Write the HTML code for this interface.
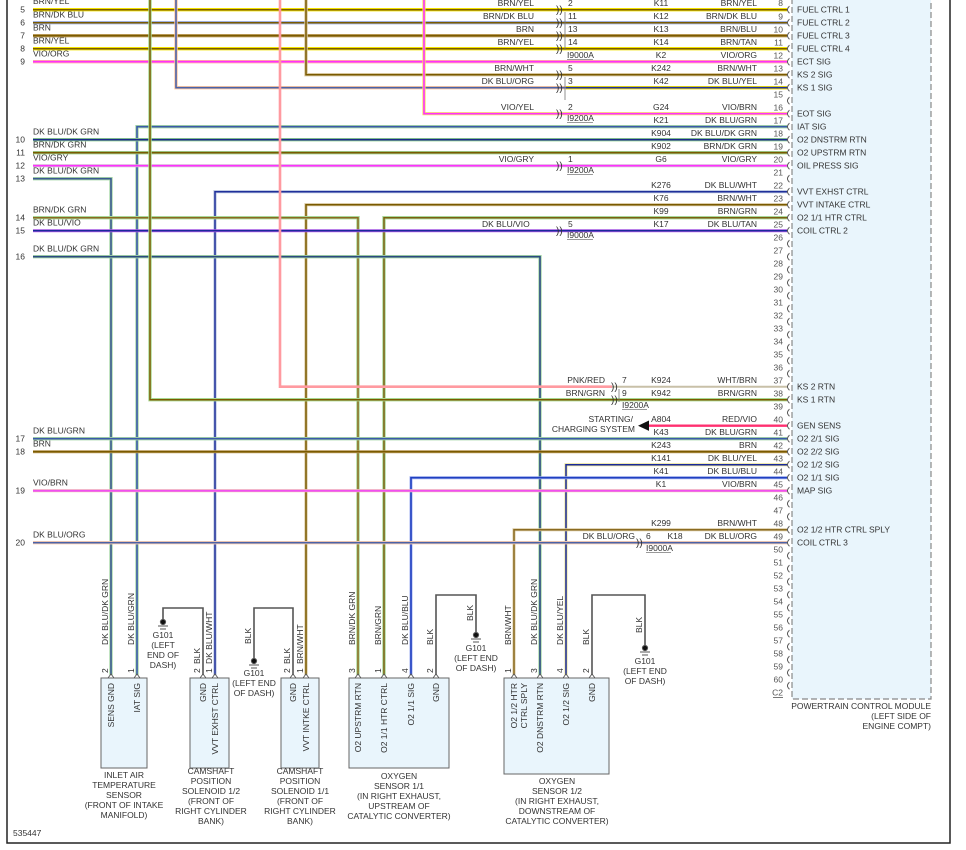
<!DOCTYPE html>
<html><head><meta charset="utf-8"><style>
html,body{margin:0;padding:0;background:#fff;}
svg{display:block;font-family:"Liberation Sans",sans-serif;font-size:8.5px;fill:#333;}
.w{fill:none;stroke-linejoin:miter;}
.e{text-anchor:end}.m{text-anchor:middle}
</style></head><body>
<svg width="966" height="850" viewBox="0 0 966 850" xmlns="http://www.w3.org/2000/svg">
<defs>
<pattern id="pc" patternUnits="userSpaceOnUse" x="782" y="3.2" width="12" height="13">
<path d="M7.5 3 Q3.5 6.5 7.5 10" fill="none" stroke="#444" stroke-width="0.9"/>
</pattern>
</defs>
<rect x="0" y="0" width="966" height="850" fill="#fff"/>
<!-- PCM box -->
<rect x="792" y="-2" width="139" height="701" fill="#e9f5fc" stroke="#888" stroke-width="1.2" stroke-dasharray="6,3"/>
<rect x="782" y="3.2" width="12" height="689" fill="url(#pc)"/>

<!-- frame -->
<rect x="7" y="-1" width="943" height="844" fill="none" stroke="#222" stroke-width="1.5"/>

<!-- WIRES -->
<g class="w">
<!-- L5 BRN/YEL -->
<polyline points="33,9.7 787,9.7" stroke="#f2e200" stroke-width="3.4"/><polyline points="33,9.7 787,9.7" stroke="#7a5a00" stroke-width="1.5"/>
<polyline points="33,22.7 787,22.7" stroke="#9fb0e0" stroke-width="3.4"/><polyline points="33,22.7 787,22.7" stroke="#7a5a00" stroke-width="1.5"/>
<polyline points="33,35.7 787,35.7" stroke="#c0a060" stroke-width="3.4"/><polyline points="33,35.7 787,35.7" stroke="#7a5a00" stroke-width="1.6"/>
<polyline points="33,48.7 787,48.7" stroke="#f2e200" stroke-width="3.4"/><polyline points="33,48.7 787,48.7" stroke="#7a5a00" stroke-width="1.5"/>
<polyline points="33,61.7 787,61.7" stroke="#ffb0a0" stroke-width="3.4"/><polyline points="33,61.7 787,61.7" stroke="#ff30ff" stroke-width="1.6"/>
<!-- pin13 BRN/WHT -->
<polyline points="306,0 306,74.7 787,74.7" stroke="#d8c8a0" stroke-width="3.4"/><polyline points="306,0 306,74.7 787,74.7" stroke="#7a5a00" stroke-width="1.5"/>
<!-- pin14 DK BLU/ORG -->
<polyline points="176,0 176,87.7 787,87.7" stroke="#ffc8a0" stroke-width="3.4"/><polyline points="176,0 176,87.7 787,87.7" stroke="#4a62a8" stroke-width="1.6"/>
<polyline points="566,87.7 787,87.7" stroke="#f2e200" stroke-width="3.4"/><polyline points="566,87.7 787,87.7" stroke="#20309a" stroke-width="1.6"/>
<!-- pin16 VIO/YEL -->
<polyline points="424,0 424,113.7 787,113.7" stroke="#f6e060" stroke-width="3.2"/><polyline points="424,0 424,113.7 787,113.7" stroke="#ff30ff" stroke-width="1.6"/>
<!-- pin17 DK BLU/GRN -->
<polyline points="137,675 137,126.7 787,126.7" stroke="#a8d8a8" stroke-width="3.4"/><polyline points="137,675 137,126.7 787,126.7" stroke="#3a5aa8" stroke-width="1.6"/>
<!-- L10 DK BLU/DK GRN -->
<polyline points="33,139.7 787,139.7" stroke="#90d090" stroke-width="3.4"/><polyline points="33,139.7 787,139.7" stroke="#1a2a8a" stroke-width="1.6"/>
<polyline points="33,152.7 787,152.7" stroke="#a0d090" stroke-width="3.4"/><polyline points="33,152.7 787,152.7" stroke="#7a5a00" stroke-width="1.6"/>
<polyline points="33,165.7 787,165.7" stroke="#d0c0d0" stroke-width="3"/><polyline points="33,165.7 787,165.7" stroke="#ff30ff" stroke-width="1.6"/>
<!-- L13 -->
<polyline points="33,178.7 111,178.7 111,675" stroke="#a8d8a8" stroke-width="3.4"/><polyline points="33,178.7 111,178.7 111,675" stroke="#3a5a90" stroke-width="1.6"/>
<!-- pin22 DK BLU/WHT -->
<polyline points="215,675 215,191.7 787,191.7" stroke="#b8c4e0" stroke-width="3.2"/><polyline points="215,675 215,191.7 787,191.7" stroke="#20309a" stroke-width="1.5"/>
<!-- pin23 BRN/WHT -->
<polyline points="306,675 306,204.7 787,204.7" stroke="#d8c8a0" stroke-width="3.2"/><polyline points="306,675 306,204.7 787,204.7" stroke="#7a5a00" stroke-width="1.5"/>
<!-- pin24 BRN/GRN -->
<polyline points="384,675 384,217.7 787,217.7" stroke="#a8d898" stroke-width="3.4"/><polyline points="384,675 384,217.7 787,217.7" stroke="#7a6010" stroke-width="1.5"/>
<!-- L14 BRN/DK GRN -->
<polyline points="33,217.7 358,217.7 358,675" stroke="#a8d898" stroke-width="3.4"/><polyline points="33,217.7 358,217.7 358,675" stroke="#8a6a20" stroke-width="1.5"/>
<!-- L15 DK BLU/VIO -->
<polyline points="33,230.7 787,230.7" stroke="#c060f0" stroke-width="3"/><polyline points="33,230.7 787,230.7" stroke="#1a2a9a" stroke-width="1.6"/>
<!-- L16 -->
<polyline points="33,256.7 540,256.7 540,675" stroke="#a8d8a8" stroke-width="3.4"/><polyline points="33,256.7 540,256.7 540,675" stroke="#2a4a80" stroke-width="1.6"/>
<!-- pin37 PNK/RED -> WHT/BRN -->
<polyline points="280,0 280,386.7 612,386.7" stroke="#ff9aa0" stroke-width="2.6"/>
<polyline points="612,386.7 787,386.7" stroke="#c8c0a8" stroke-width="2"/>
<!-- pin38 BRN/GRN -->
<polyline points="150,0 150,399.7 787,399.7" stroke="#a8d890" stroke-width="3.4"/><polyline points="150,0 150,399.7 787,399.7" stroke="#7a5a00" stroke-width="1.5"/>
<!-- pin40 -->
<polyline points="648,425.7 787,425.7" stroke="#ff3070" stroke-width="2.4"/>
<!-- L17 DK BLU/GRN -->
<polyline points="33,438.7 787,438.7" stroke="#a8d8a8" stroke-width="3.4"/><polyline points="33,438.7 787,438.7" stroke="#3a5aa8" stroke-width="1.6"/>
<polyline points="33,451.7 787,451.7" stroke="#c0a060" stroke-width="3"/><polyline points="33,451.7 787,451.7" stroke="#7a5a00" stroke-width="1.6"/>
<!-- pin43 DK BLU/YEL -->
<polyline points="566,675 566,464.7 787,464.7" stroke="#e8e090" stroke-width="3"/><polyline points="566,675 566,464.7 787,464.7" stroke="#1a2a9a" stroke-width="1.5"/>
<!-- pin44 DK BLU/BLU -->
<polyline points="411,675 411,477.7 787,477.7" stroke="#a0b0f0" stroke-width="3"/><polyline points="411,675 411,477.7 787,477.7" stroke="#2040c0" stroke-width="1.6"/>
<!-- L19 VIO/BRN -->
<polyline points="33,490.7 787,490.7" stroke="#f0d0b0" stroke-width="3.2"/><polyline points="33,490.7 787,490.7" stroke="#f050f0" stroke-width="2"/>
<!-- pin48 BRN/WHT -->
<polyline points="514,675 514,529.7 787,529.7" stroke="#d8c8a0" stroke-width="3"/><polyline points="514,675 514,529.7 787,529.7" stroke="#8a6a20" stroke-width="1.5"/>
<!-- L20 DK BLU/ORG -->
<polyline points="33,542.7 787,542.7" stroke="#ffd0b0" stroke-width="3.4"/><polyline points="33,542.7 787,542.7" stroke="#4a62a8" stroke-width="1.6"/>
<!-- ground wires -->
<polyline points="203,675 203,608 163,608 163,619" stroke="#555" stroke-width="1.6"/>
<polyline points="293,675 293,608 254,608 254,658" stroke="#555" stroke-width="1.6"/>
<polyline points="436,675 436,595 476,595 476,632" stroke="#555" stroke-width="1.6"/>
<polyline points="592,675 592,595 645,595 645,645" stroke="#555" stroke-width="1.6"/>
</g>

<!-- ground symbols -->
<g fill="#111" stroke="#555" stroke-width="1">
<circle cx="163" cy="622" r="2.6"/><line x1="158" y1="626" x2="168" y2="626"/><line x1="160" y1="629" x2="166" y2="629"/>
<circle cx="254" cy="661" r="2.6"/><line x1="249" y1="665" x2="259" y2="665"/><line x1="251" y1="668" x2="257" y2="668"/>
<circle cx="476" cy="635" r="2.6"/><line x1="471" y1="639" x2="481" y2="639"/><line x1="473" y1="642" x2="479" y2="642"/>
<circle cx="645" cy="648" r="2.6"/><line x1="640" y1="652" x2="650" y2="652"/><line x1="642" y1="655" x2="648" y2="655"/>
</g>

<!-- arrow -->
<polygon points="638,425.7 649,420.5 649,430.9" fill="#111"/>

<!-- inline connectors -->
<g fill="#333" font-size="10">
<text x="556" y="13">))</text><text x="556" y="26">))</text><text x="556" y="39">))</text><text x="556" y="52">))</text>
<text x="556" y="78">))</text><text x="556" y="91">))</text><text x="556" y="117">))</text><text x="556" y="169">))</text><text x="556" y="234">))</text>
<text x="611" y="390">))</text><text x="611" y="403">))</text><text x="636" y="546">))</text>
</g>
<g stroke="#777" stroke-width="0.8">
<line x1="565" y1="12" x2="565" y2="50"/><line x1="565" y1="77" x2="565" y2="100"/>
<line x1="619" y1="389" x2="619" y2="402"/>
<line x1="567" y1="59.5" x2="593" y2="59.5"/><line x1="567" y1="122.5" x2="593" y2="122.5"/><line x1="567" y1="174.5" x2="593" y2="174.5"/><line x1="567" y1="239.5" x2="593" y2="239.5"/>
<line x1="622" y1="409.5" x2="647" y2="409.5"/><line x1="646" y1="552.5" x2="671" y2="552.5"/>
</g>
<g>
<text x="568" y="6">2</text><text x="568" y="19">11</text><text x="568" y="32">13</text><text x="568" y="45">14</text><text x="567" y="58">I9000A</text>
<text x="568" y="71">5</text><text x="568" y="84">3</text>
<text x="568" y="110">2</text><text x="567" y="121">I9200A</text>
<text x="568" y="162">1</text><text x="567" y="173">I9200A</text>
<text x="568" y="227">5</text><text x="567" y="238">I9000A</text>
<text x="622" y="383">7</text><text x="622" y="396">9</text><text x="622" y="408">I9200A</text>
<text x="646" y="539">6</text><text x="646" y="551">I9000A</text>

<text class="e" x="534" y="6">BRN/YEL</text><text class="e" x="534" y="19">BRN/DK BLU</text><text class="e" x="534" y="32">BRN</text><text class="e" x="534" y="45">BRN/YEL</text>
<text class="e" x="534" y="71">BRN/WHT</text><text class="e" x="534" y="84">DK BLU/ORG</text><text class="e" x="534" y="110">VIO/YEL</text><text class="e" x="534" y="162">VIO/GRY</text>
<text x="482" y="227">DK BLU/VIO</text>
<text class="e" x="605" y="383">PNK/RED</text><text class="e" x="605" y="396">BRN/GRN</text>
<text class="e" x="633" y="422">STARTING/</text><text class="e" x="635" y="432">CHARGING SYSTEM</text>
<text class="e" x="635" y="539">DK BLU/ORG</text>
</g>

<!-- left row numbers and labels -->
<g>
<text class="e" x="25" y="12.7">5</text><text class="e" x="25" y="25.7">6</text><text class="e" x="25" y="38.7">7</text><text class="e" x="25" y="51.7">8</text><text class="e" x="25" y="64.7">9</text>
<text class="e" x="25" y="142.7">10</text><text class="e" x="25" y="155.7">11</text><text class="e" x="25" y="168.7">12</text><text class="e" x="25" y="181.7">13</text>
<text class="e" x="25" y="220.7">14</text><text class="e" x="25" y="233.7">15</text><text class="e" x="25" y="259.7">16</text>
<text class="e" x="25" y="441.7">17</text><text class="e" x="25" y="454.7">18</text><text class="e" x="25" y="493.7">19</text><text class="e" x="25" y="545.7">20</text>
<text x="33" y="4">BRN/YEL</text><text x="33" y="17.5">BRN/DK BLU</text><text x="33" y="30.5">BRN</text><text x="33" y="43.5">BRN/YEL</text><text x="33" y="56.5">VIO/ORG</text>
<text x="33" y="134.5">DK BLU/DK GRN</text><text x="33" y="147.5">BRN/DK GRN</text><text x="33" y="160.5">VIO/GRY</text><text x="33" y="173.5">DK BLU/DK GRN</text>
<text x="33" y="212.5">BRN/DK GRN</text><text x="33" y="225.5">DK BLU/VIO</text><text x="33" y="251.5">DK BLU/DK GRN</text>
<text x="33" y="433.5">DK BLU/GRN</text><text x="33" y="446.5">BRN</text><text x="33" y="485.5">VIO/BRN</text><text x="33" y="537.5">DK BLU/ORG</text>
</g>

<!-- right-side codes and colors -->
<g>
<text class="m" x="661" y="6">K11</text><text class="e" x="757" y="6">BRN/YEL</text>
<text class="m" x="661" y="19">K12</text><text class="e" x="757" y="19">BRN/DK BLU</text>
<text class="m" x="661" y="32">K13</text><text class="e" x="757" y="32">BRN/BLU</text>
<text class="m" x="661" y="45">K14</text><text class="e" x="757" y="45">BRN/TAN</text>
<text class="m" x="661" y="58">K2</text><text class="e" x="757" y="58">VIO/ORG</text>
<text class="m" x="661" y="71">K242</text><text class="e" x="757" y="71">BRN/WHT</text>
<text class="m" x="661" y="84">K42</text><text class="e" x="757" y="84">DK BLU/YEL</text>
<text class="m" x="661" y="110">G24</text><text class="e" x="757" y="110">VIO/BRN</text>
<text class="m" x="661" y="123">K21</text><text class="e" x="757" y="123">DK BLU/GRN</text>
<text class="m" x="661" y="136">K904</text><text class="e" x="757" y="136">DK BLU/DK GRN</text>
<text class="m" x="661" y="149">K902</text><text class="e" x="757" y="149">BRN/DK GRN</text>
<text class="m" x="661" y="162">G6</text><text class="e" x="757" y="162">VIO/GRY</text>
<text class="m" x="661" y="188">K276</text><text class="e" x="757" y="188">DK BLU/WHT</text>
<text class="m" x="661" y="201">K76</text><text class="e" x="757" y="201">BRN/WHT</text>
<text class="m" x="661" y="214">K99</text><text class="e" x="757" y="214">BRN/GRN</text>
<text class="m" x="661" y="227">K17</text><text class="e" x="757" y="227">DK BLU/TAN</text>
<text class="m" x="661" y="383">K924</text><text class="e" x="757" y="383">WHT/BRN</text>
<text class="m" x="661" y="396">K942</text><text class="e" x="757" y="396">BRN/GRN</text>
<text class="m" x="661" y="422">A804</text><text class="e" x="757" y="422">RED/VIO</text>
<text class="m" x="661" y="435">K43</text><text class="e" x="757" y="435">DK BLU/GRN</text>
<text class="m" x="661" y="448">K243</text><text class="e" x="757" y="448">BRN</text>
<text class="m" x="661" y="461">K141</text><text class="e" x="757" y="461">DK BLU/YEL</text>
<text class="m" x="661" y="474">K41</text><text class="e" x="757" y="474">DK BLU/BLU</text>
<text class="m" x="661" y="487">K1</text><text class="e" x="757" y="487">VIO/BRN</text>
<text class="m" x="661" y="526">K299</text><text class="e" x="757" y="526">BRN/WHT</text>
<text class="m" x="675" y="539">K18</text><text class="e" x="757" y="539">DK BLU/ORG</text>
</g>

<!-- PCM pin numbers -->
<g fill="#555">
<text class="e" x="783" y="6">8</text><text class="e" x="783" y="19.7">9</text><text class="e" x="783" y="32.7">10</text><text class="e" x="783" y="45.7">11</text><text class="e" x="783" y="58.7">12</text>
<text class="e" x="783" y="71.7">13</text><text class="e" x="783" y="84.7">14</text><text class="e" x="783" y="97.7">15</text><text class="e" x="783" y="110.7">16</text><text class="e" x="783" y="123.7">17</text>
<text class="e" x="783" y="136.7">18</text><text class="e" x="783" y="149.7">19</text><text class="e" x="783" y="162.7">20</text><text class="e" x="783" y="175.7">21</text><text class="e" x="783" y="188.7">22</text>
<text class="e" x="783" y="201.7">23</text><text class="e" x="783" y="214.7">24</text><text class="e" x="783" y="227.7">25</text><text class="e" x="783" y="240.7">26</text><text class="e" x="783" y="253.7">27</text>
<text class="e" x="783" y="266.7">28</text><text class="e" x="783" y="279.7">29</text><text class="e" x="783" y="292.7">30</text><text class="e" x="783" y="305.7">31</text><text class="e" x="783" y="318.7">32</text>
<text class="e" x="783" y="331.7">33</text><text class="e" x="783" y="344.7">34</text><text class="e" x="783" y="357.7">35</text><text class="e" x="783" y="370.7">36</text><text class="e" x="783" y="383.7">37</text>
<text class="e" x="783" y="396.7">38</text><text class="e" x="783" y="409.7">39</text><text class="e" x="783" y="422.7">40</text><text class="e" x="783" y="435.7">41</text><text class="e" x="783" y="448.7">42</text>
<text class="e" x="783" y="461.7">43</text><text class="e" x="783" y="474.7">44</text><text class="e" x="783" y="487.7">45</text><text class="e" x="783" y="500.7">46</text><text class="e" x="783" y="513.7">47</text>
<text class="e" x="783" y="526.7">48</text><text class="e" x="783" y="539.7">49</text><text class="e" x="783" y="552.7">50</text><text class="e" x="783" y="565.7">51</text><text class="e" x="783" y="578.7">52</text>
<text class="e" x="783" y="591.7">53</text><text class="e" x="783" y="604.7">54</text><text class="e" x="783" y="617.7">55</text><text class="e" x="783" y="630.7">56</text><text class="e" x="783" y="643.7">57</text>
<text class="e" x="783" y="656.7">58</text><text class="e" x="783" y="669.7">59</text><text class="e" x="783" y="682.7">60</text><text class="e" x="783" y="695.7">C2</text>
</g>
<line x1="773" y1="697.5" x2="783" y2="697.5" stroke="#555" stroke-width="0.8"/>

<!-- PCM function names -->
<g>
<text x="797" y="12.7">FUEL CTRL 1</text><text x="797" y="25.7">FUEL CTRL 2</text><text x="797" y="38.7">FUEL CTRL 3</text><text x="797" y="51.7">FUEL CTRL 4</text>
<text x="797" y="64.7">ECT SIG</text><text x="797" y="77.7">KS 2 SIG</text><text x="797" y="90.7">KS 1 SIG</text>
<text x="797" y="116.7">EOT SIG</text><text x="797" y="129.7">IAT SIG</text><text x="797" y="142.7">O2 DNSTRM RTN</text><text x="797" y="155.7">O2 UPSTRM RTN</text><text x="797" y="168.7">OIL PRESS SIG</text>
<text x="797" y="194.7">VVT EXHST CTRL</text><text x="797" y="207.7">VVT INTAKE CTRL</text><text x="797" y="220.7">O2 1/1 HTR CTRL</text><text x="797" y="233.7">COIL CTRL 2</text>
<text x="797" y="389.7">KS 2 RTN</text><text x="797" y="402.7">KS 1 RTN</text>
<text x="797" y="428.7">GEN SENS</text><text x="797" y="441.7">O2 2/1 SIG</text><text x="797" y="454.7">O2 2/2 SIG</text><text x="797" y="467.7">O2 1/2 SIG</text><text x="797" y="480.7">O2 1/1 SIG</text><text x="797" y="493.7">MAP SIG</text>
<text x="797" y="532.7">O2 1/2 HTR CTRL SPLY</text><text x="797" y="545.7">COIL CTRL 3</text>
<text class="e" x="931" y="709">POWERTRAIN CONTROL MODULE</text>
<text class="e" x="931" y="719">(LEFT SIDE OF</text>
<text class="e" x="931" y="729">ENGINE COMPT)</text>
</g>

<!-- component boxes -->
<g fill="#e9f5fc" stroke="#666" stroke-width="1">
<rect x="101" y="678" width="46" height="90"/>
<rect x="190" y="678" width="39" height="90"/>
<rect x="281" y="678" width="38" height="90"/>
<rect x="349" y="678" width="100" height="90"/>
<rect x="504" y="678" width="105" height="96"/>
</g>
<!-- pin bumps -->
<g fill="none" stroke="#555" stroke-width="0.9">
<path d="M108 678 L111 674 L114 678"/><path d="M134 678 L137 674 L140 678"/>
<path d="M200 678 L203 674 L206 678"/><path d="M212 678 L215 674 L218 678"/>
<path d="M290 678 L293 674 L296 678"/><path d="M303 678 L306 674 L309 678"/>
<path d="M355 678 L358 674 L361 678"/><path d="M381 678 L384 674 L387 678"/><path d="M408 678 L411 674 L414 678"/><path d="M433 678 L436 674 L439 678"/>
<path d="M511 678 L514 674 L517 678"/><path d="M537 678 L540 674 L543 678"/><path d="M563 678 L566 674 L569 678"/><path d="M589 678 L592 674 L595 678"/>
</g>

<!-- rotated wire labels + pin numbers -->
<g>
<text transform="translate(108,645) rotate(-90)">DK BLU/DK GRN</text>
<text transform="translate(134,645) rotate(-90)">DK BLU/GRN</text>
<text transform="translate(108,673) rotate(-90)">2</text><text transform="translate(134,673) rotate(-90)">1</text>
<text transform="translate(200,664) rotate(-90)">BLK</text><text transform="translate(212,664) rotate(-90)">DK BLU/WHT</text>
<text transform="translate(200,673) rotate(-90)">2</text><text transform="translate(212,673) rotate(-90)">1</text>
<text transform="translate(290,664) rotate(-90)">BLK</text><text transform="translate(303,664) rotate(-90)">BRN/WHT</text>
<text transform="translate(290,673) rotate(-90)">2</text><text transform="translate(303,673) rotate(-90)">1</text>
<text transform="translate(251,644) rotate(-90)">BLK</text>
<text transform="translate(355,645) rotate(-90)">BRN/DK GRN</text><text transform="translate(381,645) rotate(-90)">BRN/GRN</text>
<text transform="translate(408,645) rotate(-90)">DK BLU/BLU</text><text transform="translate(433,645) rotate(-90)">BLK</text>
<text transform="translate(355,673) rotate(-90)">3</text><text transform="translate(381,673) rotate(-90)">1</text><text transform="translate(408,673) rotate(-90)">4</text><text transform="translate(433,673) rotate(-90)">2</text>
<text transform="translate(473,621) rotate(-90)">BLK</text>
<text transform="translate(511,645) rotate(-90)">BRN/WHT</text><text transform="translate(537,645) rotate(-90)">DK BLU/DK GRN</text>
<text transform="translate(563,645) rotate(-90)">DK BLU/YEL</text><text transform="translate(589,645) rotate(-90)">BLK</text>
<text transform="translate(511,673) rotate(-90)">1</text><text transform="translate(537,673) rotate(-90)">3</text><text transform="translate(563,673) rotate(-90)">4</text><text transform="translate(589,673) rotate(-90)">2</text>
<text transform="translate(642,633) rotate(-90)">BLK</text>
</g>
<!-- rotated inside labels -->
<g>
<text class="e" transform="translate(114,683) rotate(-90)">SENS GND</text>
<text class="e" transform="translate(140,683) rotate(-90)">IAT SIG</text>
<text class="e" transform="translate(206,683) rotate(-90)">GND</text>
<text class="e" transform="translate(218,683) rotate(-90)">VVT EXHST CTRL</text>
<text class="e" transform="translate(296,683) rotate(-90)">GND</text>
<text class="e" transform="translate(309,683) rotate(-90)">VVT INTKE CTRL</text>
<text class="e" transform="translate(361,683) rotate(-90)">O2 UPSTRM RTN</text>
<text class="e" transform="translate(387,683) rotate(-90)">O2 1/1 HTR CTRL</text>
<text class="e" transform="translate(414,683) rotate(-90)">O2 1/1 SIG</text>
<text class="e" transform="translate(439,683) rotate(-90)">GND</text>
<text class="e" transform="translate(517,683) rotate(-90)">O2 1/2 HTR</text>
<text class="e" transform="translate(527,683) rotate(-90)">CTRL SPLY</text>
<text class="e" transform="translate(543,683) rotate(-90)">O2 DNSTRM RTN</text>
<text class="e" transform="translate(569,683) rotate(-90)">O2 1/2 SIG</text>
<text class="e" transform="translate(595,683) rotate(-90)">GND</text>
</g>

<!-- ground captions -->
<g class="m">
<text x="163" y="638">G101</text><text x="163" y="648">(LEFT</text><text x="163" y="658">END OF</text><text x="163" y="668">DASH)</text>
<text x="254" y="676">G101</text><text x="254" y="686">(LEFT END</text><text x="254" y="696">OF DASH)</text>
<text x="476" y="651">G101</text><text x="476" y="661">(LEFT END</text><text x="476" y="671">OF DASH)</text>
<text x="645" y="664">G101</text><text x="645" y="674">(LEFT END</text><text x="645" y="684">OF DASH)</text>
</g>
<!-- component captions -->
<g class="m">
<text x="124" y="778">INLET AIR</text><text x="124" y="788">TEMPERATURE</text><text x="124" y="798">SENSOR</text><text x="124" y="808">(FRONT OF INTAKE</text><text x="124" y="818">MANIFOLD)</text>
<text x="211" y="774">CAMSHAFT</text><text x="211" y="784">POSITION</text><text x="211" y="794">SOLENOID 1/2</text><text x="211" y="804">(FRONT OF</text><text x="211" y="814">RIGHT CYLINDER</text><text x="211" y="824">BANK)</text>
<text x="300" y="774">CAMSHAFT</text><text x="300" y="784">POSITION</text><text x="300" y="794">SOLENOID 1/1</text><text x="300" y="804">(FRONT OF</text><text x="300" y="814">RIGHT CYLINDER</text><text x="300" y="824">BANK)</text>
<text x="399" y="779">OXYGEN</text><text x="399" y="789">SENSOR 1/1</text><text x="399" y="799">(IN RIGHT EXHAUST,</text><text x="399" y="809">UPSTREAM OF</text><text x="399" y="819">CATALYTIC CONVERTER)</text>
<text x="557" y="784">OXYGEN</text><text x="557" y="794">SENSOR 1/2</text><text x="557" y="804">(IN RIGHT EXHAUST,</text><text x="557" y="814">DOWNSTREAM OF</text><text x="557" y="824">CATALYTIC CONVERTER)</text>
</g>
<text x="13" y="836">535447</text>
</svg>
</body></html>
